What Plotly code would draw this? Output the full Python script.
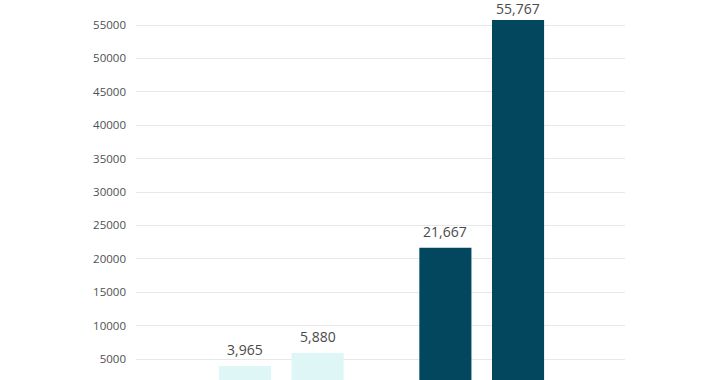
import plotly.graph_objects as go

groups = [0, 1]
first_bar_values = [3965, 21667]
second_bar_values = [5880, 55767]
group_colors = ["#dff6f6", "#02475e"]
y_ticks = [5000, 10000, 15000, 20000, 25000, 30000, 35000, 40000, 45000, 50000, 55000]

bargap = 0.275
slot = (1 - bargap) / 2
y_max = 58743

fig = go.Figure()
for vals in (first_bar_values, second_bar_values):
    fig.add_trace(go.Bar(
        x=groups, y=vals,
        marker=dict(color=group_colors, line=dict(width=0)),
        showlegend=False, hoverinfo="y",
    ))

for k, vals in enumerate((first_bar_values, second_bar_values)):
    off = (k - 0.5) * slot
    for g, v in zip(groups, vals):
        near_top = v > 0.93 * y_max
        fig.add_annotation(
            x=g + off, y=v, xref="x", yref="y", text=f"{v:,}",
            showarrow=False, yanchor="bottom", yshift=0 if near_top else 5,
            font=dict(family="Open Sans", size=14, color="#4a4a4a"),
        )

fig.update_layout(
    width=720, height=380,
    margin=dict(l=136, r=95, t=0, b=0),
    paper_bgcolor="white", plot_bgcolor="white",
    barmode="group", bargap=bargap, bargroupgap=0.283,
    xaxis=dict(range=[-0.725, 1.715], showticklabels=False, showgrid=False,
               zeroline=False, showline=False, ticks="", automargin=False),
    yaxis=dict(range=[1856, y_max], tickvals=y_ticks, ticktext=[str(v) for v in y_ticks],
               showgrid=True, gridcolor="#e8e8e8", gridwidth=1,
               zeroline=False, showline=False, ticks="", ticklabelstandoff=9,
               automargin=False,
               tickfont=dict(family="Open Sans", size=11.5, color="#505050")),
    font=dict(family="Open Sans"),
)

fig.write_html("out.html", config={"displayModeBar": False},
               post_script="document.body.style.margin='0px';")
